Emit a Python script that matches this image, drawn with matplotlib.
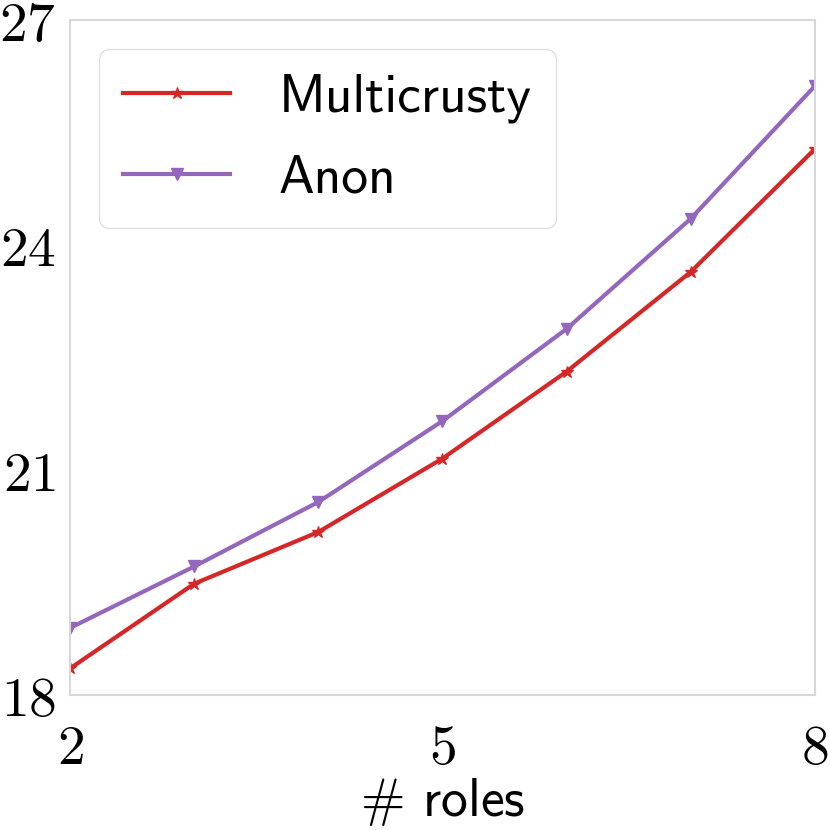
import matplotlib
matplotlib.use("Agg")
import matplotlib.pyplot as plt

roles = [2, 3, 4, 5, 6, 7, 8]
multicrusty = [18.35, 19.48, 20.17, 21.15, 22.31, 23.64, 25.28]
anon = [18.89, 19.71, 20.57, 21.65, 22.88, 24.35, 26.12]

xticks = [2, 5, 8]
yticks = [18, 21, 24, 27]

plt.rcParams['mathtext.fontset'] = 'cm'

fig = plt.figure(figsize=(8.3, 8.3), dpi=100)
ax = fig.add_axes([0.0843, 0.163, 0.8976, 0.813])

ax.plot(roles, multicrusty, color='#d62728', lw=3, marker='*', ms=9,
        label='Multicrusty')
ax.plot(roles, anon, color='#9467bd', lw=3, marker='v', ms=9,
        label='Anon')

ax.set_xlim(2, 8)
ax.set_ylim(18, 27)
ax.set_xticks(xticks)
ax.set_yticks(yticks)
ax.set_xticklabels(['$%d$' % t for t in xticks], fontsize=40)
ax.set_yticklabels(['$%d$' % t for t in yticks], fontsize=40)
ax.tick_params(length=0)
ax.tick_params(axis='y', pad=10)
ax.tick_params(axis='x', pad=20)

for s in ax.spines.values():
    s.set_color('#d8d8d8')
    s.set_linewidth(1.5)

ax.set_xlabel(r'$\#$ roles', fontsize=38.5, family='cmss10', labelpad=0)

leg = ax.legend(loc='upper left', prop={'family': 'cmss10', 'size': 38.5},
                fancybox=True, framealpha=1, labelspacing=0.6,
                borderpad=0.45, handletextpad=0.9, borderaxespad=0.55)
leg.get_frame().set_edgecolor('#e0e0e0')

fig.savefig('out.png', dpi=100)
